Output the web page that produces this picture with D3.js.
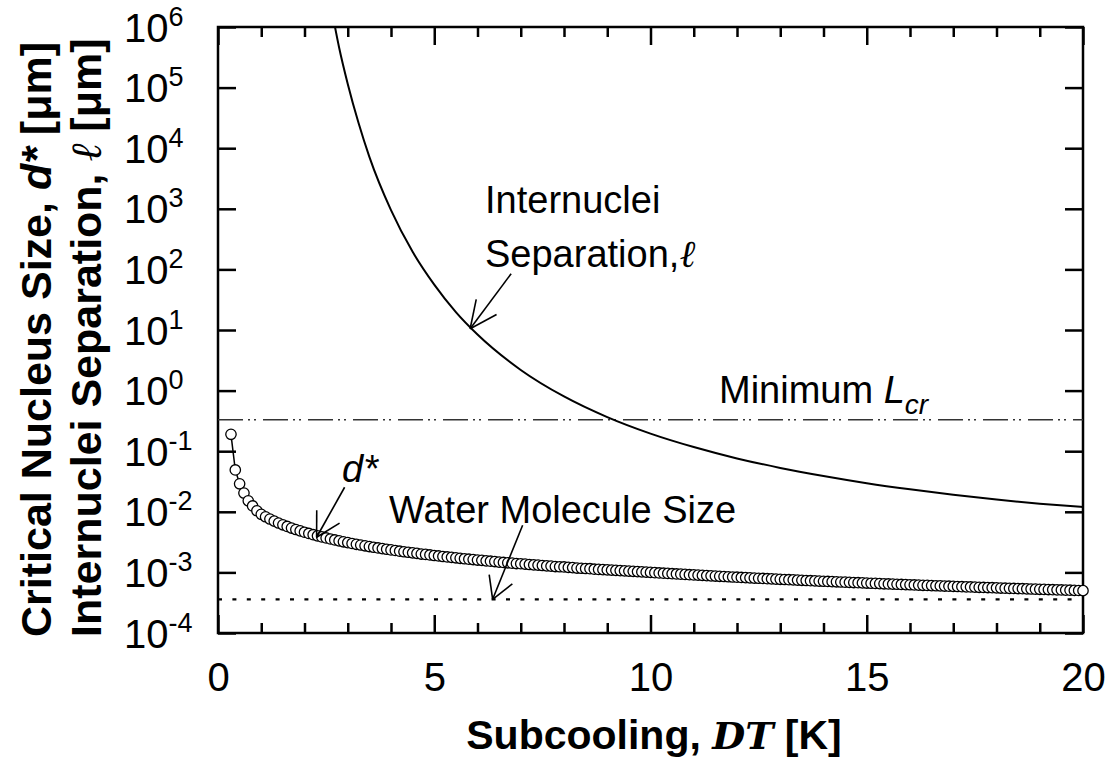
<!DOCTYPE html>
<html>
<head>
<meta charset="utf-8">
<script src="https://cdn.jsdelivr.net/npm/d3@7"></script>
<style>
  body { margin: 0; background: #fff; }
  svg { display: block; }
  text { font-family: "Liberation Sans", Arial, sans-serif; fill: #000; }
</style>
</head>
<body>
<svg id="chart" width="1112" height="764"></svg>
<script>
// ---- data ----
var decadeTicks = [1e-4, 1e-3, 1e-2, 1e-1, 1e0, 1e1, 1e2, 1e3, 1e4, 1e5, 1e6];
var decadeExponents = ["-4", "-3", "-2", "-1", "0", "1", "2", "3", "4", "5", "6"];
var xMajorTicks = [0, 5, 10, 15, 20];
var xMinorTicks = [1, 2, 3, 4, 6, 7, 8, 9, 11, 12, 13, 14, 16, 17, 18, 19];

// internuclei separation l [um] vs subcooling [K]
var sepDT = [2.65, 2.8, 3.0, 3.25, 3.5, 4, 4.5, 5, 5.5, 6, 7, 8, 9, 10, 11, 12, 13, 14, 15, 16, 17, 18, 19, 20];
var sepValues = [1.6e6, 4.6e5, 1.15e5, 2.6e4, 7.2e3, 950, 195, 56, 19.7, 8.4, 2.19, 0.80, 0.365, 0.195, 0.117,
                 0.076, 0.053, 0.039, 0.0297, 0.0235, 0.0191, 0.0159, 0.0136, 0.012];

// critical nucleus size d* [um] vs subcooling [K]
var dStarDT = [0.3, 0.4, 0.5, 0.6, 0.7, 0.8, 0.9,
  1.0, 1.1, 1.2, 1.3, 1.4, 1.5, 1.6, 1.7, 1.8, 1.9,
  2.0, 2.1, 2.2, 2.3, 2.4, 2.5, 2.6, 2.7, 2.8, 2.9,
  3.0, 3.1, 3.2, 3.3, 3.4, 3.5, 3.6, 3.7, 3.8, 3.9,
  4.0, 4.1, 4.2, 4.3, 4.4, 4.5, 4.6, 4.7, 4.8, 4.9,
  5.0, 5.1, 5.2, 5.3, 5.4, 5.5, 5.6, 5.7, 5.8, 5.9,
  6.0, 6.1, 6.2, 6.3, 6.4, 6.5, 6.6, 6.7, 6.8, 6.9,
  7.0, 7.1, 7.2, 7.3, 7.4, 7.5, 7.6, 7.7, 7.8, 7.9,
  8.0, 8.1, 8.2, 8.3, 8.4, 8.5, 8.6, 8.7, 8.8, 8.9,
  9.0, 9.1, 9.2, 9.3, 9.4, 9.5, 9.6, 9.7, 9.8, 9.9,
  10.0, 10.1, 10.2, 10.3, 10.4, 10.5, 10.6, 10.7, 10.8, 10.9,
  11.0, 11.1, 11.2, 11.3, 11.4, 11.5, 11.6, 11.7, 11.8, 11.9,
  12.0, 12.1, 12.2, 12.3, 12.4, 12.5, 12.6, 12.7, 12.8, 12.9,
  13.0, 13.1, 13.2, 13.3, 13.4, 13.5, 13.6, 13.7, 13.8, 13.9,
  14.0, 14.1, 14.2, 14.3, 14.4, 14.5, 14.6, 14.7, 14.8, 14.9,
  15.0, 15.1, 15.2, 15.3, 15.4, 15.5, 15.6, 15.7, 15.8, 15.9,
  16.0, 16.1, 16.2, 16.3, 16.4, 16.5, 16.6, 16.7, 16.8, 16.9,
  17.0, 17.1, 17.2, 17.3, 17.4, 17.5, 17.6, 17.7, 17.8, 17.9,
  18.0, 18.1, 18.2, 18.3, 18.4, 18.5, 18.6, 18.7, 18.8, 18.9,
  19.0, 19.1, 19.2, 19.3, 19.4, 19.5, 19.6, 19.7, 19.8, 19.9,
  20.0];
var dStarValues = [0.19, 0.049, 0.029, 0.0204, 0.0152, 0.0125, 0.0104,
  0.0091, 0.00828, 0.0076, 0.00702, 0.00653, 0.0061, 0.00573, 0.00539, 0.0051, 0.00484,
  0.0046, 0.00439, 0.00419, 0.00401, 0.00385, 0.0037, 0.00356, 0.00343, 0.00331, 0.0032,
  0.0031, 0.003, 0.00291, 0.00283, 0.00275, 0.00267, 0.0026, 0.00253, 0.00247, 0.00241,
  0.00235, 0.0023, 0.00224, 0.00219, 0.00215, 0.0021, 0.00206, 0.00201, 0.00198, 0.00194,
  0.0019, 0.00187, 0.00183, 0.0018, 0.00177, 0.00174, 0.00171, 0.00168, 0.00165, 0.00163,
  0.0016, 0.00158, 0.00155, 0.00153, 0.00151, 0.00148, 0.00146, 0.00144, 0.00142, 0.0014,
  0.00139, 0.00137, 0.00135, 0.00133, 0.00132, 0.0013, 0.00128, 0.00127, 0.00125, 0.00124,
  0.00123, 0.00121, 0.0012, 0.00118, 0.00117, 0.00116, 0.00115, 0.00113, 0.00112, 0.00111,
  0.0011, 0.00109, 0.00108, 0.00107, 0.00106, 0.00105, 0.00104, 0.00103, 0.00102, 0.00101,
  0.001, 0.00099, 0.00098, 0.00097, 0.000962, 0.000952, 0.000943, 0.000935, 0.000926, 0.000917,
  0.000909, 0.000901, 0.000893, 0.000885, 0.000877, 0.00087, 0.000862, 0.000855, 0.000847, 0.00084,
  0.000833, 0.000826, 0.00082, 0.000813, 0.000806, 0.0008, 0.000794, 0.000787, 0.000781, 0.000775,
  0.000769, 0.000763, 0.000758, 0.000752, 0.000746, 0.000741, 0.000735, 0.00073, 0.000725, 0.000719,
  0.000714, 0.000709, 0.000704, 0.000699, 0.000694, 0.00069, 0.000685, 0.00068, 0.000676, 0.000671,
  0.000667, 0.000662, 0.000658, 0.000654, 0.000649, 0.000645, 0.000641, 0.000637, 0.000633, 0.000629,
  0.000625, 0.000621, 0.000617, 0.000613, 0.00061, 0.000606, 0.000602, 0.000599, 0.000595, 0.000592,
  0.000588, 0.000585, 0.000581, 0.000578, 0.000575, 0.000571, 0.000568, 0.000565, 0.000562, 0.000559,
  0.000556, 0.000552, 0.000549, 0.000546, 0.000543, 0.000541, 0.000538, 0.000535, 0.000532, 0.000529,
  0.000526, 0.000524, 0.000521, 0.000518, 0.000515, 0.000513, 0.00051, 0.000508, 0.000505, 0.000503,
  0.0005];

var minLcr = 0.33;        // Minimum L_cr [um]
var waterSize = 3.6e-4;   // water molecule size [um]

// ---- layout ----
var margin = {top: 27, right: 29, bottom: 131, left: 218},
    width = 1112 - margin.left - margin.right,
    height = 764 - margin.top - margin.bottom;

var svg = d3.select("#chart")
  .append("g")
    .attr("transform", "translate(" + margin.left + "," + margin.top + ")");

var x = d3.scaleLinear().domain([0, 20]).range([0, width]);
var y = d3.scaleLog().domain([1e-4, 1e6]).range([height, 0]);

svg.append("clipPath").attr("id", "plotClip")
  .append("rect").attr("width", width).attr("height", height);

// ---- axes (ticks pointing inward) ----
function styleAxis(g) {
  g.select(".domain").remove();
  g.selectAll(".tick line").attr("stroke", "#000").attr("stroke-width", 2.5);
}

// bottom, major with labels
svg.append("g")
    .attr("transform", "translate(0," + height + ")")
    .call(d3.axisBottom(x).tickValues(xMajorTicks).tickSize(-18).tickPadding(30).tickFormat(d3.format("d")))
    .call(styleAxis)
    .call(function(g) {
      g.selectAll("text").attr("font-size", 40).attr("dy", "0.71em")
        .style("font-family", '"Liberation Sans", Arial, sans-serif');
    });
// bottom, minor
svg.append("g")
    .attr("transform", "translate(0," + height + ")")
    .call(d3.axisBottom(x).tickValues(xMinorTicks).tickSize(-10).tickFormat(""))
    .call(styleAxis);
// top
svg.append("g")
    .call(d3.axisTop(x).tickValues(xMajorTicks).tickSize(-18).tickFormat(""))
    .call(styleAxis);
svg.append("g")
    .call(d3.axisTop(x).tickValues(xMinorTicks).tickSize(-10).tickFormat(""))
    .call(styleAxis);
// right
svg.append("g")
    .attr("transform", "translate(" + width + ",0)")
    .call(d3.axisRight(y).tickValues(decadeTicks).tickSize(-18).tickFormat(""))
    .call(styleAxis);
// left with 10^n labels
var yAxisG = svg.append("g")
    .call(d3.axisLeft(y).tickValues(decadeTicks).tickSize(-18).tickFormat(""))
    .call(styleAxis);

yAxisG.selectAll(".tick").each(function(d, i) {
  var t = d3.select(this).append("text")
      .attr("x", -94)
      .attr("y", 14)
      .attr("text-anchor", "start")
      .attr("font-size", 40)
      .style("font-family", '"Liberation Sans", Arial, sans-serif');
  t.append("tspan").text("10");
  t.append("tspan").attr("font-size", 27).attr("dy", -16).text(decadeExponents[i]);
});

// frame
svg.append("rect")
    .attr("width", width)
    .attr("height", height)
    .attr("fill", "none")
    .attr("stroke", "#000")
    .attr("stroke-width", 2.5);

// ---- reference lines ----
svg.append("line")
    .attr("x1", 0).attr("x2", width)
    .attr("y1", y(minLcr)).attr("y2", y(minLcr))
    .attr("stroke", "#333")
    .attr("stroke-width", 1.4)
    .attr("stroke-dasharray", "25,5,2,4,2,7");

svg.append("line")
    .attr("x1", 0).attr("x2", width)
    .attr("y1", y(waterSize)).attr("y2", y(waterSize))
    .attr("stroke", "#000")
    .attr("stroke-width", 2.2)
    .attr("stroke-dasharray", "4,10.4");

// ---- internuclei separation curve ----
var sepData = sepDT.map(function(d, i) { return {dt: d, v: sepValues[i]}; });
svg.append("path")
    .datum(sepData)
    .attr("clip-path", "url(#plotClip)")
    .attr("fill", "none")
    .attr("stroke", "#000")
    .attr("stroke-width", 2)
    .attr("d", d3.line()
      .x(function(d) { return x(d.dt); })
      .y(function(d) { return y(d.v); })
      .curve(d3.curveMonotoneX));

// ---- d* series ----
var dData = dStarDT.map(function(d, i) { return {dt: d, v: dStarValues[i]}; });
svg.append("path")
    .datum(dData)
    .attr("fill", "none")
    .attr("stroke", "#000")
    .attr("stroke-width", 1.5)
    .attr("d", d3.line()
      .x(function(d) { return x(d.dt); })
      .y(function(d) { return y(d.v); }));

svg.selectAll(".dot")
    .data(dData)
  .enter().append("circle")
    .attr("class", "dot")
    .attr("cx", function(d) { return x(d.dt); })
    .attr("cy", function(d) { return y(d.v); })
    .attr("r", 5.2)
    .attr("fill", "#fff")
    .attr("stroke", "#000")
    .attr("stroke-width", 1.3);

// ---- annotations ----
function arrow(tipX, tipY, dx, dy, headLen, headAng) {
  var g = svg.append("g").attr("stroke", "#000").attr("stroke-width", 1.6).attr("fill", "none");
  g.append("line").attr("x1", tipX).attr("y1", tipY).attr("x2", tipX + dx).attr("y2", tipY + dy);
  var a = Math.atan2(dy, dx);
  [-1, 1].forEach(function(s) {
    var b = a + s * headAng * Math.PI / 180;
    g.append("line").attr("x1", tipX).attr("y1", tipY)
      .attr("x2", tipX + headLen * Math.cos(b)).attr("y2", tipY + headLen * Math.sin(b));
  });
}

arrow(x(5.83), y(10.5), 41, -55, 30, 25);
arrow(x(2.28), y(0.0038), 28, -50, 27, 29);
arrow(x(6.35), y(waterSize), 30, -74, 25, 30);

var ann = svg.append("g").attr("font-size", 38);
ann.append("text").attr("x", 485 - margin.left).attr("y", 213 - margin.top).text("Internuclei");
var sepLabel = ann.append("text").attr("x", 485 - margin.left).attr("y", 267 - margin.top);
sepLabel.append("tspan").text("Separation,");
sepLabel.append("tspan")
    .style("font-family", '"DejaVu Serif", serif')
    .attr("font-style", "italic")
    .attr("font-size", 38)
    .text("ℓ");

var lcr = ann.append("text").attr("x", 719 - margin.left).attr("y", 403 - margin.top);
lcr.append("tspan").text("Minimum ");
lcr.append("tspan").attr("font-style", "italic").text("L");
lcr.append("tspan").attr("font-style", "italic").attr("font-size", 28).attr("dy", 11).text("cr");

var ds = ann.append("text").attr("x", 342 - margin.left).attr("y", 482 - margin.top).attr("font-style", "italic");
ds.append("tspan").text("d*");

ann.append("text").attr("x", 389 - margin.left).attr("y", 523 - margin.top).text("Water Molecule Size");

// ---- axis titles ----
var xt = d3.select("#chart").append("text")
    .attr("x", 654)
    .attr("y", 749)
    .attr("text-anchor", "middle")
    .attr("font-size", 41)
    .attr("font-weight", "bold");
xt.append("tspan").text("Subcooling, ");
xt.append("tspan")
    .style("font-family", '"DejaVu Serif", serif')
    .attr("font-style", "italic")
    .attr("font-size", 38)
    .text("DT");
xt.append("tspan").text(" [K]");

var yt1 = d3.select("#chart").append("text")
    .attr("transform", "translate(51,637) rotate(-90)")
    .attr("font-size", 43)
    .attr("font-weight", "bold");
yt1.append("tspan").text("Critical Nucleus Size, ");
yt1.append("tspan").attr("font-style", "italic").text("d*");
yt1.append("tspan").text(" [μm]");

var yt2 = d3.select("#chart").append("text")
    .attr("transform", "translate(101,637) rotate(-90)")
    .attr("font-size", 43)
    .attr("font-weight", "bold");
yt2.append("tspan").text("Internuclei Separation, ");
yt2.append("tspan")
    .style("font-family", '"DejaVu Serif", serif')
    .attr("font-style", "italic")
    .attr("font-weight", "normal")
    .text("ℓ");
yt2.append("tspan").text(" [μm]");
</script>
</body>
</html>
